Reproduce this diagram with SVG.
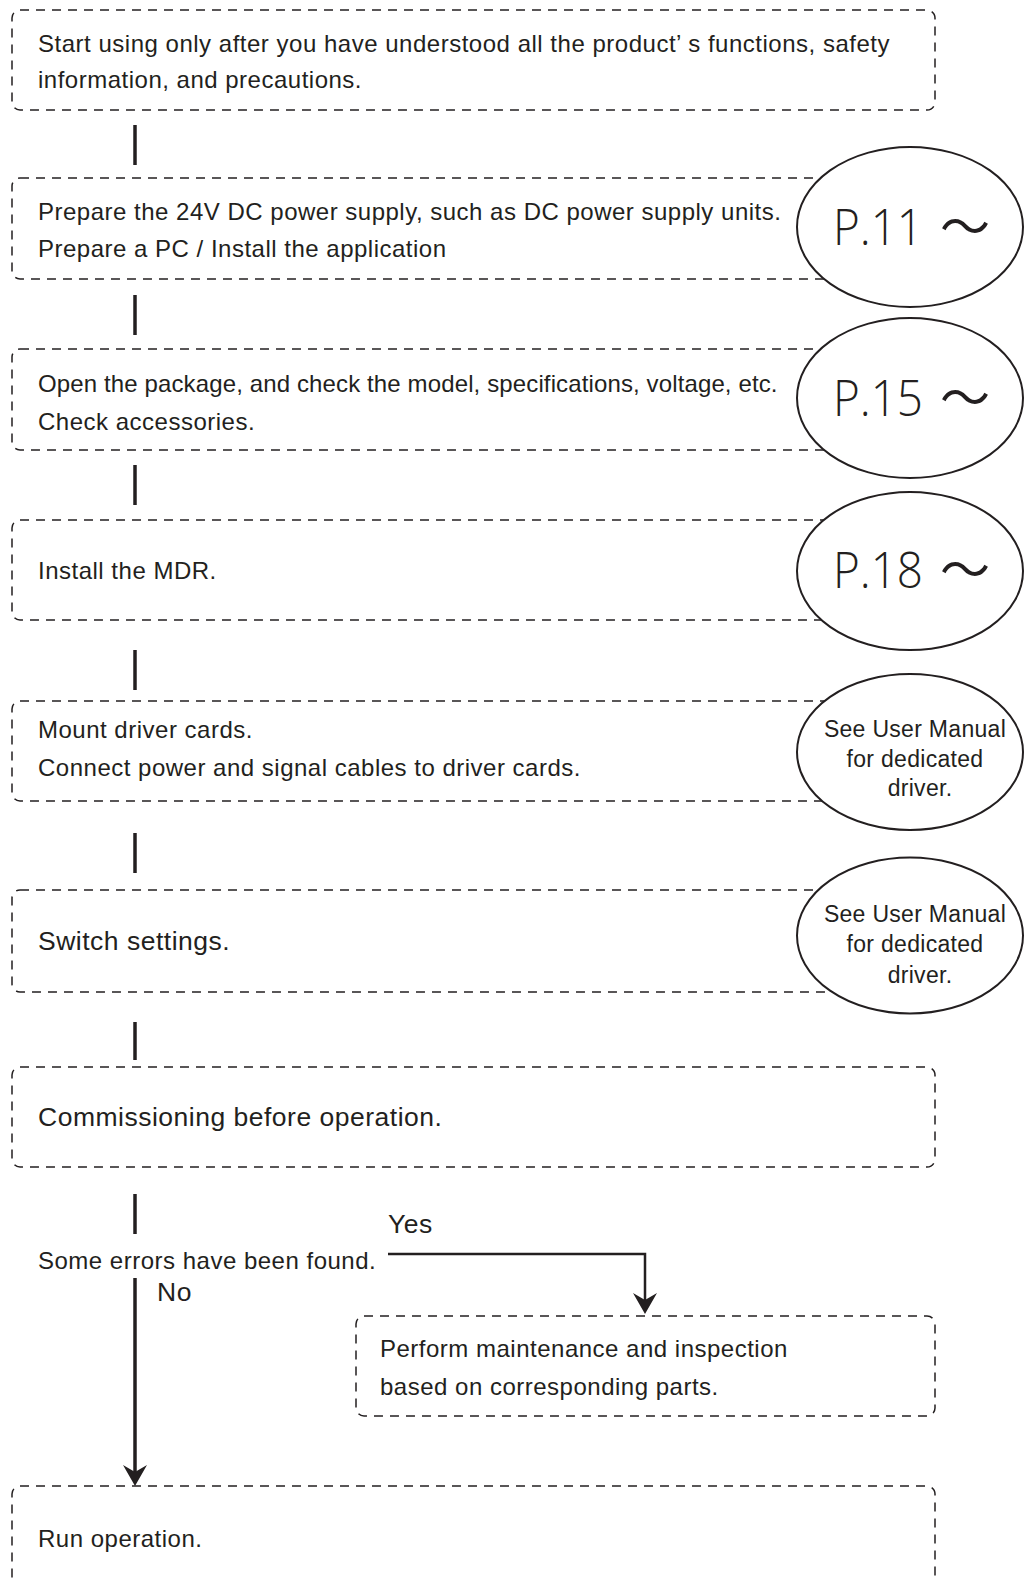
<svg xmlns="http://www.w3.org/2000/svg" width="1024" height="1581" viewBox="0 0 1024 1581">
<style>
  .box{fill:none;stroke:#231f20;stroke-width:1.5;stroke-dasharray:9 7}
  .t{font-family:"Liberation Sans",Arial,sans-serif;font-size:24px;letter-spacing:0.5px;fill:#231f20}
  .tl{font-family:"Liberation Sans",Arial,sans-serif;font-size:26.5px;letter-spacing:0.5px;fill:#231f20}
  .ell{fill:#fff;stroke:#231f20;stroke-width:2}
  .pg{font-family:"Open Sans","Noto Sans",sans-serif;font-size:50px;font-weight:300;fill:#231f20}
  .tilde{font-family:"Noto Sans CJK JP",sans-serif;font-size:50px;fill:#231f20}
  .et{font-family:"Liberation Sans",Arial,sans-serif;font-size:23px;letter-spacing:0.3px;fill:#231f20;text-anchor:middle}
  .conn{stroke:#231f20;stroke-width:3.5;fill:none}
  .conn2{stroke:#231f20;stroke-width:2.5;fill:none}
</style>
<defs>
  <marker id="arr" markerUnits="userSpaceOnUse" markerWidth="24" markerHeight="26" viewBox="0 -13 22 26" refX="7" refY="0" orient="auto">
    <path d="M0,-12 L21,0 L0,12 L7,0 Z" fill="#231f20"/>
  </marker>
</defs>
<rect width="1024" height="1581" fill="#fff"/>

<g id="connectors">
  <line class="conn" x1="135" y1="125" x2="135" y2="165"/>
  <line class="conn" x1="135" y1="295" x2="135" y2="335"/>
  <line class="conn" x1="135" y1="465" x2="135" y2="505"/>
  <line class="conn" x1="135" y1="650" x2="135" y2="690"/>
  <line class="conn" x1="135" y1="833" x2="135" y2="873"/>
  <line class="conn" x1="135" y1="1022" x2="135" y2="1060"/>
  <line class="conn" x1="135" y1="1194" x2="135" y2="1234"/>
  <line class="conn" x1="135" y1="1278" x2="135" y2="1472" marker-end="url(#arr)"/>
  <path class="conn2" d="M388,1254 H645 V1300" marker-end="url(#arr)"/>
</g>

<g id="n1">
  <rect class="box" x="12" y="10" width="923" height="100" rx="8"/>
  <text class="t" x="38" y="52" textLength="852" lengthAdjust="spacing">Start using only after you have understood all the product’ s functions, safety</text>
  <text class="t" x="38" y="88">information, and precautions.</text>
</g>

<g id="n2">
  <rect class="box" x="12" y="178" width="923" height="101" rx="8"/>
  <text class="t" x="38" y="220">Prepare the 24V DC power supply, such as DC power supply units.</text>
  <text class="t" x="38" y="257">Prepare a PC / Install the application</text>
</g>
<g id="p11">
  <ellipse class="ell" cx="910" cy="227" rx="113" ry="80"/>
  <text class="pg" x="833" y="245" textLength="90" lengthAdjust="spacingAndGlyphs">P.11</text>
  <text class="tilde" x="940" y="245">～</text>
</g>

<g id="n3">
  <rect class="box" x="12" y="349" width="923" height="101" rx="8"/>
  <text class="t" x="38" y="392" textLength="740" lengthAdjust="spacing">Open the package, and check the model, specifications, voltage, etc.</text>
  <text class="t" x="38" y="430">Check accessories.</text>
</g>
<g id="p15">
  <ellipse class="ell" cx="910" cy="398" rx="113" ry="80"/>
  <text class="pg" x="833" y="416" textLength="90" lengthAdjust="spacingAndGlyphs">P.15</text>
  <text class="tilde" x="940" y="416">～</text>
</g>

<g id="n4">
  <rect class="box" x="12" y="520" width="923" height="100" rx="8"/>
  <text class="t" x="38" y="579">Install the MDR.</text>
</g>
<g id="p18">
  <ellipse class="ell" cx="910" cy="571" rx="113" ry="79"/>
  <text class="pg" x="833" y="588" textLength="90" lengthAdjust="spacingAndGlyphs">P.18</text>
  <text class="tilde" x="940" y="588">～</text>
</g>

<g id="n5">
  <rect class="box" x="12" y="701" width="923" height="100" rx="8"/>
  <text class="t" x="38" y="738">Mount driver cards.</text>
  <text class="t" x="38" y="776">Connect power and signal cables to driver cards.</text>
</g>
<g id="m1">
  <ellipse class="ell" cx="910" cy="752" rx="113" ry="78"/>
  <text class="et" x="915" y="737">See User Manual</text>
  <text class="et" x="915" y="767">for dedicated</text>
  <text class="et" x="920" y="796">driver.</text>
</g>

<g id="n6">
  <rect class="box" x="12" y="890" width="923" height="102" rx="8"/>
  <text class="tl" x="38" y="950">Switch settings.</text>
</g>
<g id="m2">
  <ellipse class="ell" cx="910" cy="935.5" rx="113" ry="78"/>
  <text class="et" x="915" y="922">See User Manual</text>
  <text class="et" x="915" y="952">for dedicated</text>
  <text class="et" x="920" y="983">driver.</text>
</g>

<g id="n7">
  <rect class="box" x="12" y="1067" width="923" height="100" rx="8"/>
  <text class="tl" x="38" y="1126">Commissioning before operation.</text>
</g>

<g id="decision">
  <text class="t" x="38" y="1269">Some errors have been found.</text>
  <text class="tl" x="388" y="1233" letter-spacing="0">Yes</text>
  <text class="tl" x="157" y="1301" letter-spacing="0">No</text>
</g>

<g id="n8">
  <rect class="box" x="356" y="1316" width="579" height="100" rx="8"/>
  <text class="t" x="380" y="1357" letter-spacing="0">Perform maintenance and inspection</text>
  <text class="t" x="380" y="1395" letter-spacing="0">based on corresponding parts.</text>
</g>

<g id="n9">
  <rect class="box" x="12" y="1486" width="923" height="100" rx="8"/>
  <text class="t" x="38" y="1547">Run operation.</text>
</g>
</svg>
